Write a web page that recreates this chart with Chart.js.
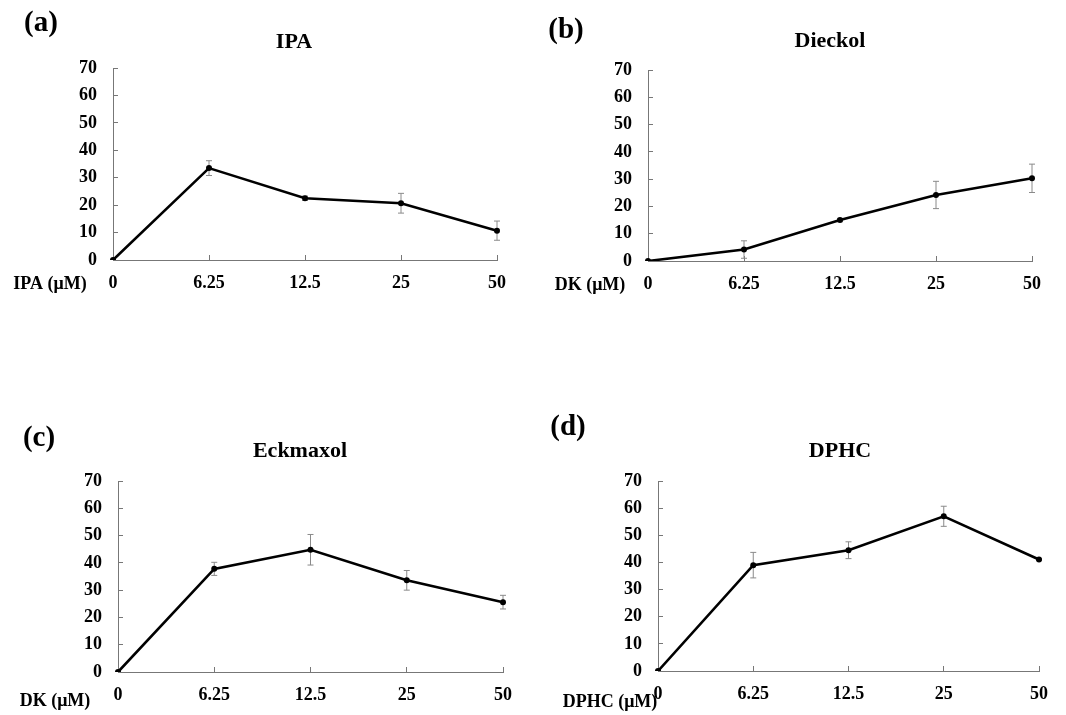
<!DOCTYPE html>
<html>
<head>
<meta charset="utf-8">
<script src="https://cdn.jsdelivr.net/npm/chart.js@4/dist/chart.umd.min.js"></script>
<style>
  html, body { margin: 0; padding: 0; background: #fff; }
  #page { position: relative; width: 1066px; height: 715px; overflow: hidden; }
  canvas { position: absolute; }
</style>
</head>
<body>
<div id="page">
  <canvas id="cA" width="533" height="300" style="left:0;top:0"></canvas>
  <canvas id="cB" width="533" height="300" style="left:533px;top:0"></canvas>
  <canvas id="cC" width="533" height="305" style="left:0;top:410px"></canvas>
  <canvas id="cD" width="533" height="305" style="left:533px;top:410px"></canvas>
</div>
<script>
  'use strict';

  // data
  var doses = ['0', '6.25', '12.5', '25', '50'];
  var yTicks = [0, 10, 20, 30, 40, 50, 60, 70];

  var ipaMean = [0, 33.5, 22.5, 20.7, 10.7];
  var ipaErr = [0, 2.7, 0.8, 3.6, 3.5];

  var dieckolMean = [0, 4.2, 15.0, 24.2, 30.3];
  var dieckolErr = [0, 3.2, 0.6, 5.0, 5.2];

  var eckmaxolMean = [0, 37.8, 44.8, 33.6, 25.6];
  var eckmaxolErr = [0, 2.4, 5.6, 3.6, 2.5];

  var dphcMean = [0, 39.0, 44.5, 57.0, 41.1];
  var dphcErr = [0, 4.7, 3.1, 3.7, 0.3];

  var SERIF = "'Liberation Serif', 'Times New Roman', serif";

  // error bars, drawn under the line
  var errorBars = {
    id: 'errorBars',
    beforeDatasetsDraw: function (chart, args, opts) {
      var ctx = chart.ctx;
      var y = chart.scales.y;
      var meta = chart.getDatasetMeta(0);
      var errs = opts.errors || [];
      var means = chart.data.datasets[0].data;
      ctx.save();
      ctx.strokeStyle = '#8a8a8a';
      ctx.lineWidth = 1;
      meta.data.forEach(function (pt, i) {
        var e = errs[i];
        if (!e) return;
        var top = y.getPixelForValue(means[i] + e);
        var bot = y.getPixelForValue(means[i] - e);
        ctx.beginPath();
        ctx.moveTo(pt.x, top); ctx.lineTo(pt.x, bot);
        ctx.moveTo(pt.x - 3, top); ctx.lineTo(pt.x + 3, top);
        ctx.moveTo(pt.x - 3, bot); ctx.lineTo(pt.x + 3, bot);
        ctx.stroke();
      });
      ctx.restore();
    }
  };

  // panel tag, title and dose label
  var panelText = {
    id: 'panelText',
    afterDraw: function (chart, args, o) {
      var ctx = chart.ctx;
      ctx.save();
      ctx.fillStyle = '#000';
      ctx.textAlign = 'center';
      ctx.textBaseline = 'middle';
      ctx.font = 'bold 29px ' + SERIF;
      ctx.fillText(o.tag, o.tagX, o.tagY);
      ctx.font = 'bold 22px ' + SERIF;
      ctx.fillText(o.title, o.titleX, o.titleY);
      ctx.font = 'bold 18px ' + SERIF;
      ctx.fillText(o.xName, o.nameX, o.nameY);
      ctx.restore();
    }
  };

  function makePanel(id, means, errs, box, text) {
    new Chart(document.getElementById(id), {
      type: 'line',
      data: {
        labels: doses,
        datasets: [{
          data: means,
          borderColor: '#000',
          borderWidth: 2.6,
          tension: 0,
          pointRadius: 3,
          pointBackgroundColor: '#000',
          pointBorderColor: '#000',
          pointBorderWidth: 0
        }]
      },
      options: {
        responsive: false,
        animation: false,
        events: [],
        layout: { padding: { left: 0, right: box.right, top: box.top, bottom: 0 } },
        plugins: {
          legend: { display: false },
          tooltip: { enabled: false },
          errorBars: { errors: errs },
          panelText: text
        },
        scales: {
          x: {
            type: 'category',
            offset: false,
            grid: { drawOnChartArea: false, drawTicks: true, tickLength: -5, color: '#777' },
            border: { color: '#777', width: 1 },
            ticks: {
              color: '#000',
              padding: 18,
              maxRotation: 0,
              autoSkip: false,
              font: { family: SERIF, size: 18, weight: 'bold' }
            },
            afterFit: function (s) { s.height = box.xH; }
          },
          y: {
            min: 0,
            max: 70,
            afterBuildTicks: function (s) {
              s.ticks = yTicks.map(function (v) { return { value: v }; });
            },
            grid: { drawOnChartArea: false, drawTicks: true, tickLength: -5, color: '#777' },
            border: { color: '#777', width: 1 },
            ticks: {
              color: '#000',
              padding: 21,
              font: { family: SERIF, size: 18, weight: 'bold' }
            },
            afterFit: function (s) { s.width = box.yW; }
          }
        }
      },
      plugins: [errorBars, panelText]
    });
  }

  makePanel('cA', ipaMean, ipaErr,
    { yW: 113, right: 36, top: 68, xH: 40 },
    { tag: '(a)', tagX: 41, tagY: 24, title: 'IPA', titleX: 294, titleY: 42,
      xName: 'IPA (\u03bcM)', nameX: 50, nameY: 284 });

  makePanel('cB', dieckolMean, dieckolErr,
    { yW: 115, right: 34, top: 70, xH: 39 },
    { tag: '(b)', tagX: 33, tagY: 31, title: 'Dieckol', titleX: 297, titleY: 41,
      xName: 'DK (\u03bcM)', nameX: 57, nameY: 285 });

  makePanel('cC', eckmaxolMean, eckmaxolErr,
    { yW: 118, right: 30, top: 71, xH: 43 },
    { tag: '(c)', tagX: 39, tagY: 29, title: 'Eckmaxol', titleX: 300, titleY: 41,
      xName: 'DK (\u03bcM)', nameX: 55, nameY: 291 });

  makePanel('cD', dphcMean, dphcErr,
    { yW: 125, right: 24, top: 71, xH: 44 },
    { tag: '(d)', tagX: 35, tagY: 18, title: 'DPHC', titleX: 307, titleY: 41,
      xName: 'DPHC (\u03bcM)', nameX: 77, nameY: 292 });
</script>
</body>
</html>
